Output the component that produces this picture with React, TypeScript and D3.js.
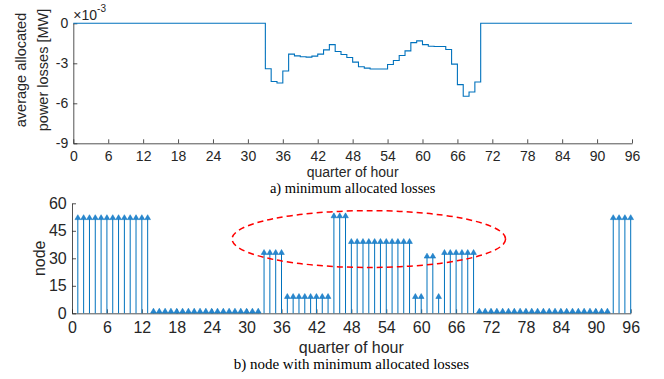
import React, { useEffect, useRef } from 'react';
import * as d3 from 'd3';

// quarter-of-hour axis ticks
const quarterTicks = [0, 6, 12, 18, 24, 30, 36, 42, 48, 54, 60, 66, 72, 78, 84, 90, 96];
const lossTicks = [0, -3, -6, -9];
const nodeTicks = [0, 15, 30, 45, 60];

// a) average allocated losses (x 10^-3 MW), value i holds on [i, i+1]
const avgLosses = [
  0, 0, 0, 0, 0, 0, 0, 0, 0, 0, 0, 0, 0, 0, 0, 0,
  0, 0, 0, 0, 0, 0, 0, 0, 0, 0, 0, 0, 0, 0, 0, 0, 0,
  -3.41, -4.36, -4.48, -3.58, -2.31, -2.44, -2.51, -2.54, -2.46, -2.31,
  -1.99, -1.60, -2.12, -2.34, -2.57, -2.91, -3.26, -3.36, -3.43, -3.43,
  -3.43, -3.09, -2.79, -2.42, -2.07, -1.45, -1.32, -1.60, -1.72, -1.74,
  -1.74, -1.97, -3.06, -4.60, -5.47, -5.15, -4.40,
  0, 0, 0, 0, 0, 0, 0, 0, 0, 0, 0, 0, 0,
  0, 0, 0, 0, 0, 0, 0, 0, 0, 0, 0, 0, 0,
];

// b) node with minimum allocated losses, quarters 1..96
const minNodes = [
  52, 52, 52, 52, 52, 52, 52, 52, 52, 52, 52, 52, 52,
  1, 1, 1, 1, 1, 1, 1, 1, 1, 1, 1, 1, 1, 1, 1, 1, 1, 1, 1,
  33, 33, 33, 33,
  9, 9, 9, 9, 9, 9, 9, 9,
  53, 53, 53,
  39, 39, 39, 39, 39, 39, 39, 39, 39, 39, 39,
  9, 9, 31, 31, 9,
  33, 33, 33, 33, 33, 33,
  1, 1, 1, 1, 1, 1, 1, 1, 1, 1, 1, 1, 1, 1, 1, 1, 1, 1, 1, 1, 1, 1, 1,
  52, 52, 52, 52,
];

// highlighted region in data units (quarter, node)
const highlight = { cx: 51, cy: 40.5, rx: 23.5, ry: 15.5 };

const SANS = 'Liberation Sans, Arial, Helvetica, sans-serif';
const SERIF = 'Liberation Serif, Times New Roman, serif';
const AX = '#262626';
const BLUE = '#0072BD';

const App = () => {
  const ref = useRef<SVGSVGElement>(null);

  useEffect(() => {
    const svg = d3.select(ref.current);
    svg.selectAll('*').remove();

    const styleAxis = (g: any, size: number) => {
      g.select('.domain').attr('stroke', AX).attr('stroke-width', 0.8);
      g.selectAll('.tick line').attr('stroke', AX).attr('stroke-width', 0.8);
      g.selectAll('.tick text').attr('fill', AX).style('font-size', size + 'px').style('font-family', SANS);
    };

    // ---- top chart
    const x1 = d3.scaleLinear().domain([0, 96]).range([73.3, 632]);
    const y1 = d3.scaleLinear().domain([-9, 0]).range([143.3, 23.3]);
    const top = svg.append('g');

    top.append('g')
      .attr('transform', `translate(0,${y1(-9)})`)
      .call(d3.axisBottom(x1).tickValues(quarterTicks).tickSizeInner(-4).tickSizeOuter(0).tickPadding(7.8).tickFormat(d3.format('d')))
      .call((g: any) => styleAxis(g, 14));
    top.append('g')
      .attr('transform', `translate(${x1(0)},0)`)
      .call(d3.axisLeft(y1).tickValues(lossTicks).tickSizeInner(-4).tickSizeOuter(0).tickPadding(5).tickFormat((d: any) => d === 0 ? '0' : '-' + Math.abs(d)))
      .call((g: any) => styleAxis(g, 14));

    const stairPts = avgLosses.map((v, i) => [i, v] as [number, number]);
    stairPts.push([96, avgLosses[avgLosses.length - 1]]);
    top.append('path')
      .datum(stairPts)
      .attr('fill', 'none')
      .attr('stroke', BLUE)
      .attr('stroke-width', 1.1)
      .attr('d', d3.line<[number, number]>().x(d => x1(d[0])).y(d => y1(d[1])).curve(d3.curveStepAfter));

    const exp = top.append('text').attr('x', x1(0)).attr('y', 20).attr('fill', AX)
      .style('font-family', SANS).style('font-size', '14px');
    exp.append('tspan').text('×10');
    exp.append('tspan').attr('dy', -8).style('font-size', '10px').text('-3');

    const yl = top.append('text').attr('transform', 'translate(0,70) rotate(-90)')
      .attr('text-anchor', 'middle').attr('fill', AX)
      .style('font-family', SANS).style('font-size', '14.5px');
    yl.append('tspan').attr('x', 0).attr('y', 26).text('average allocated');
    yl.append('tspan').attr('x', 0).attr('y', 48).text('power losses [MW]');

    top.append('text').attr('x', (x1(0) + x1(96)) / 2).attr('y', 176.8)
      .attr('text-anchor', 'middle').attr('fill', AX)
      .style('font-family', SANS).style('font-size', '14px').text('quarter of hour');
    top.append('text').attr('x', (x1(0) + x1(96)) / 2).attr('y', 192.7)
      .attr('text-anchor', 'middle').attr('fill', '#000')
      .style('font-family', SERIF).style('font-size', '14.5px').text('a) minimum allocated losses');

    // ---- bottom chart
    const x2 = d3.scaleLinear().domain([0, 96]).range([72, 630.7]);
    const y2 = d3.scaleLinear().domain([0, 60]).range([313.3, 203.3]);
    const bot = svg.append('g');

    bot.append('g')
      .attr('transform', `translate(0,${y2(0)})`)
      .call(d3.axisBottom(x2).tickValues(quarterTicks).tickSizeInner(-4).tickSizeOuter(0).tickPadding(8.6).tickFormat(d3.format('d')))
      .call((g: any) => styleAxis(g, 16));
    bot.append('g')
      .attr('transform', `translate(${x2(0)},0)`)
      .call(d3.axisLeft(y2).tickValues(nodeTicks).tickSizeInner(-4).tickSizeOuter(0).tickPadding(5.3).tickFormat(d3.format('d')))
      .call((g: any) => styleAxis(g, 16));

    const stems = bot.append('g').selectAll('g').data(minNodes).join('g')
      .attr('transform', (d, i) => `translate(${x2(i + 1)},0)`);
    stems.append('line')
      .attr('x1', 0).attr('x2', 0)
      .attr('y1', y2(0)).attr('y2', d => y2(d))
      .attr('stroke', BLUE).attr('stroke-width', 1);
    const tri = d3.symbol().type(d3.symbolTriangle).size(14);
    stems.append('path')
      .attr('d', tri() as string)
      .attr('transform', d => `translate(0,${y2(d)})`)
      .attr('fill', '#2a86cf').attr('stroke', BLUE).attr('stroke-width', 0.5);

    bot.append('ellipse')
      .attr('cx', x2(highlight.cx)).attr('cy', y2(highlight.cy))
      .attr('rx', x2(highlight.rx) - x2(0)).attr('ry', y2(0) - y2(highlight.ry))
      .attr('fill', 'none').attr('stroke', '#ff0000').attr('stroke-width', 1.5)
      .attr('stroke-dasharray', '6,4');

    bot.append('text').attr('transform', `translate(45,${(y2(0) + y2(60)) / 2}) rotate(-90)`)
      .attr('text-anchor', 'middle').attr('fill', AX)
      .style('font-family', SANS).style('font-size', '16px').text('node');
    bot.append('text').attr('x', (x2(0) + x2(96)) / 2).attr('y', 353)
      .attr('text-anchor', 'middle').attr('fill', AX)
      .style('font-family', SANS).style('font-size', '16px').text('quarter of hour');
    bot.append('text').attr('x', (x2(0) + x2(96)) / 2).attr('y', 369)
      .attr('text-anchor', 'middle').attr('fill', '#000')
      .style('font-family', SERIF).style('font-size', '15px').text('b) node with minimum allocated losses');
  }, []);

  return (
    <svg ref={ref} width={664} height={379}
      style={{ position: 'absolute', left: 0, top: 0, background: '#fff' }} />
  );
};

export default App;
